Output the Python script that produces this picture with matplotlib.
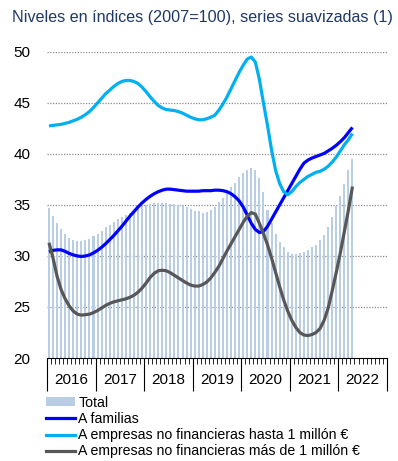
import numpy as np
import matplotlib
matplotlib.use("Agg")
import matplotlib.pyplot as plt
from matplotlib.patches import Patch
from matplotlib.lines import Line2D
from matplotlib.transforms import blended_transform_factory

plt.rcParams['font.family'] = ['Liberation Sans', 'DejaVu Sans']

# meses desde enero 2016 hasta abril 2022
years = ['2016', '2017', '2018', '2019', '2020', '2021', '2022']

total = [34.7, 33.9, 33.2, 32.6, 32.2, 31.8, 31.6, 31.5, 31.5, 31.6, 31.7, 32.0,
         32.2, 32.4, 32.8, 33.0, 33.3, 33.6, 33.8, 34.0, 34.2, 34.4, 34.7, 34.9,
         35.0, 35.1, 35.2, 35.2, 35.2, 35.2, 35.1, 35.1, 35.0, 34.9, 34.8, 34.6,
         34.4, 34.4, 34.25, 34.3, 34.5, 34.8, 35.3, 35.7, 36.3, 36.8, 37.2, 37.7,
         38.1, 38.4, 38.6, 38.4, 37.6, 36.3, 34.5, 33.2, 32.2, 31.4, 30.9, 30.4,
         30.2, 30.2, 30.3, 30.4, 30.6, 30.9, 31.1, 31.6, 32.1, 32.8, 33.8, 34.9,
         35.9, 37.1, 38.4, 39.5]

familias = [30.4, 30.55, 30.6, 30.6, 30.45, 30.25, 30.1, 30.0, 29.95, 30.0, 30.1, 30.3,
            30.55, 30.85, 31.2, 31.6, 32.0, 32.45, 32.9, 33.4, 33.9, 34.35, 34.8, 35.2,
            35.55, 35.85, 36.1, 36.3, 36.45, 36.55, 36.55, 36.5, 36.45, 36.4, 36.35, 36.35,
            36.35, 36.35, 36.4, 36.4, 36.4, 36.45, 36.45, 36.4, 36.3, 36.1, 35.8, 35.4,
            34.8, 34.0, 33.2, 32.6, 32.3, 32.4, 32.9, 33.6, 34.3, 35.0, 35.7, 36.4,
            37.1, 37.8, 38.5, 39.1, 39.4, 39.6, 39.75, 39.9, 40.05, 40.3, 40.55, 40.85,
            41.2, 41.6, 42.1, 42.6]

pymes = [42.75, 42.8, 42.85, 42.9, 43.0, 43.1, 43.25, 43.4, 43.6, 43.85, 44.15, 44.55,
         45.0, 45.45, 45.9, 46.25, 46.6, 46.9, 47.1, 47.2, 47.2, 47.1, 46.9, 46.55,
         46.1, 45.6, 45.15, 44.75, 44.5, 44.35, 44.3, 44.25, 44.15, 44.0, 43.8, 43.6,
         43.45, 43.35, 43.35, 43.45, 43.6, 43.8, 44.3, 44.9, 45.6, 46.4, 47.2, 48.0,
         48.7, 49.3, 49.5, 49.0, 47.3, 45.0, 42.8, 40.4, 38.4, 37.1, 36.3, 36.0,
         36.3, 36.8, 37.2, 37.5, 37.8, 38.0, 38.2, 38.3, 38.5, 38.8, 39.2, 39.7,
         40.3, 40.9, 41.4, 42.0]

grandes = [31.3, 29.8, 28.0, 26.7, 25.8, 25.1, 24.6, 24.3, 24.2, 24.25, 24.3, 24.45,
           24.65, 24.9, 25.15, 25.35, 25.5, 25.6, 25.7, 25.8, 25.95, 26.15, 26.45, 26.85,
           27.35, 27.9, 28.3, 28.55, 28.6, 28.55, 28.35, 28.1, 27.85, 27.6, 27.35, 27.15,
           27.05, 27.05, 27.2, 27.45, 27.85, 28.4, 29.0, 29.75, 30.5, 31.2, 31.9, 32.6,
           33.3, 33.9, 34.25, 34.1, 33.2, 32.2, 31.1, 29.8, 28.4, 27.0, 25.7, 24.6,
           23.7, 23.0, 22.5, 22.25, 22.2, 22.3, 22.5, 22.9, 23.7, 24.9, 26.6, 28.4,
           30.3, 32.4, 34.5, 36.8]

x = np.arange(len(total)) + 0.5

fig = plt.figure(figsize=(3.98, 4.61), dpi=100)
ax = fig.add_axes([0.118, 0.2234, 0.854, 0.664])

ax.bar(x, np.array(total) - 20, bottom=20, width=0.5, color='#b9cde5', zorder=1)
ax.plot(x, familias, color='#0000ff', lw=2.3, zorder=3, solid_capstyle='butt')
ax.plot(x, pymes, color='#00b0f0', lw=2.3, zorder=4, solid_capstyle='butt')
ax.plot(x, grandes, color='#575757', lw=2.3, zorder=5, solid_capstyle='butt')

ax.set_ylim(20, 50)
ax.set_xlim(0, 84)
ax.set_yticks([20, 25, 30, 35, 40, 45, 50])
for v in [25, 30, 35, 40, 45, 50]:
    ax.axhline(v, color='#8c8c8c', lw=0.9, ls=(0, (1, 1.2)), zorder=0.5)

ax.tick_params(axis='y', length=0, labelsize=11, pad=12)
ax.set_xticks(np.arange(0, 85, 12))
ax.set_xticklabels([])
ax.set_xticks(np.arange(0, 85, 1), minor=True)
ax.tick_params(axis='x', which='major', length=24, width=0.8, direction='out')
ax.tick_params(axis='x', which='minor', length=4.5, width=0.6, direction='out')

for s in ['left', 'right', 'top']:
    ax.spines[s].set_visible(False)
ax.spines['bottom'].set_linewidth(0.8)

trans = blended_transform_factory(ax.transData, ax.transAxes)
for i, yr in enumerate(years):
    ax.text(12 * i + 6, -0.072, yr, transform=trans, ha='center', va='center',
            fontsize=11)

fig.text(0.03, 0.963, 'Niveles en índices (2007=100), series suavizadas (1)',
         color='#1f3864', fontsize=11.6, ha='left', va='center')

handles = [Patch(facecolor='#b9cde5', edgecolor='none'),
           Line2D([], [], color='#0000ff', lw=2.3),
           Line2D([], [], color='#00b0f0', lw=2.3),
           Line2D([], [], color='#575757', lw=2.3)]
labels = ['Total', 'A familias', 'A empresas no financieras hasta 1 millón €',
          'A empresas no financieras más de 1 millón €']
fig.legend(handles, labels, loc='lower left', bbox_to_anchor=(0.09, -0.016),
           frameon=False, fontsize=10.2, handlelength=2.1, handleheight=0.55,
           handletextpad=0.2, labelspacing=0.16, borderpad=0.2)

fig.savefig('out.png', dpi=100)
